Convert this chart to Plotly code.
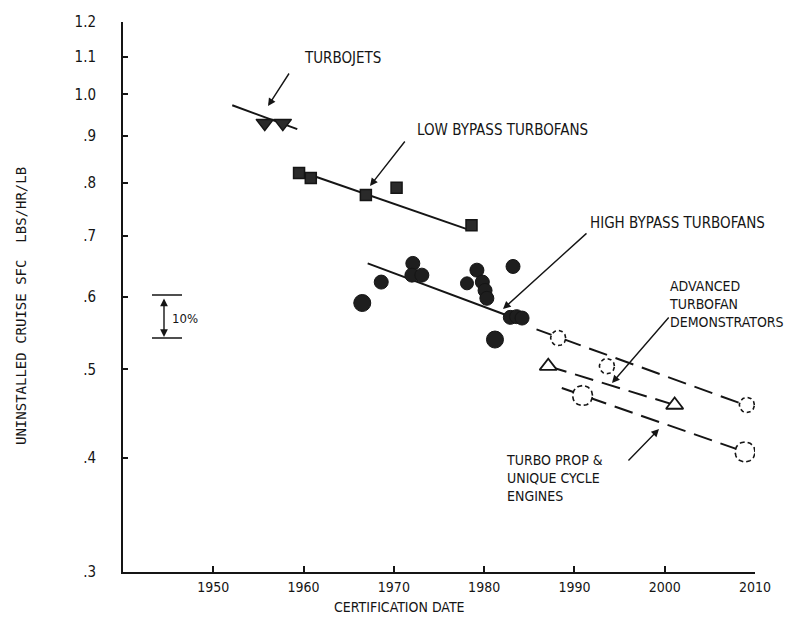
import numpy as np
import plotly.graph_objects as go

# ---------------- data ----------------
turbojet_year = [1955.7, 1957.7]
turbojet_sfc = [0.930, 0.930]
turbojet_trend_year = [1952.1, 1959.3]
turbojet_trend_sfc = [0.973, 0.916]

lowbp_year = [1959.5, 1960.8, 1966.9, 1970.3, 1978.6]
lowbp_sfc = [0.820, 0.810, 0.776, 0.790, 0.719]
lowbp_trend_year = [1960.8, 1978.1]
lowbp_trend_sfc = [0.816, 0.712]

highbp_year = [1966.5, 1968.6, 1972.1, 1972.0, 1973.1, 1978.1, 1979.2, 1979.8,
               1980.1, 1980.3, 1983.2, 1982.9, 1983.6, 1984.2, 1981.2]
highbp_sfc = [0.591, 0.623, 0.653, 0.634, 0.634, 0.621, 0.642, 0.623,
              0.610, 0.598, 0.648, 0.570, 0.571, 0.569, 0.539]
highbp_size = [17, 14, 14, 14, 14, 13, 14, 14, 14, 14, 14, 14, 14, 14, 17]
highbp_trend_year = [1967.1, 1982.5]
highbp_trend_sfc = [0.653, 0.573]

adv_year = [1988.2, 1993.6, 2009.1]
adv_sfc = [0.541, 0.504, 0.457]
adv_trend_year = [1985.8, 2008.9]
adv_trend_sfc = [0.553, 0.457]

prop_tri_year = [1987.1, 2001.1]
prop_tri_sfc = [0.504, 0.457]

prop_circ_year = [1990.9, 2008.9]
prop_circ_sfc = [0.468, 0.406]
prop_trend_year = [1988.6, 2008.9]
prop_trend_sfc = [0.477, 0.406]

y_tickvals = [0.3, 0.4, 0.5, 0.6, 0.7, 0.8, 0.9, 1.0, 1.1, 1.2]
y_ticktext = [".3", ".4", ".5", ".6", ".7", ".8", ".9", "1.0", "1.1", "1.2"]
x_tickvals = [1950, 1960, 1970, 1980, 1990, 2000, 2010]
x_ticktext = ["1950", "1960", "1970", "1980", "1990", "2000", "2010"]

# ---------------- layout geometry ----------------
# the page body adds an 8px offset; sizes below are chosen so the plot area
# lands at screen x 123..755, y 22..572
OFF = 8
W, H = 802 - OFF, 625 - OFF
PL, PR, PT, PB = 123, 755, 22, 572       # plot area on screen
ML, MT = PL - OFF, PT - OFF
PW, PH = PR - PL, PB - PT
MR, MB = W - ML - PW, H - MT - PH
XR = [1940, 2010]
YR = [np.log10(0.3), np.log10(1.2)]
px_per_year = PW / (XR[1] - XR[0])
px_per_dec = PH / (YR[1] - YR[0])

FONT = "DejaVu Sans Condensed, Liberation Sans Narrow, Arial Narrow, sans-serif"
MONO = "DejaVu Sans Mono, Liberation Mono, monospace"
INK = "#151515"


def paper(x, y):
    return (x - PL) / PW, (PB - y) / PH


def dashed_circle(xs, ys, r):
    t = np.linspace(0, 2 * np.pi, 61)
    cx, cy = [], []
    for x0, y0 in zip(xs, ys):
        cx += list(x0 + r * np.cos(t) / px_per_year) + [None]
        cy += list(y0 * 10 ** (r * np.sin(t) / px_per_dec)) + [None]
    return cx, cy


fig = go.Figure()

line_style = dict(color=INK, width=2)
dash_style = dict(color=INK, width=2, dash="19px,9px")

# trend lines
fig.add_trace(go.Scatter(x=turbojet_trend_year, y=turbojet_trend_sfc, mode="lines", line=line_style))
fig.add_trace(go.Scatter(x=lowbp_trend_year, y=lowbp_trend_sfc, mode="lines", line=line_style))
fig.add_trace(go.Scatter(x=highbp_trend_year, y=highbp_trend_sfc, mode="lines", line=line_style))
fig.add_trace(go.Scatter(x=adv_trend_year, y=adv_trend_sfc, mode="lines", line=dash_style))
fig.add_trace(go.Scatter(x=prop_tri_year, y=prop_tri_sfc, mode="lines", line=dash_style))
fig.add_trace(go.Scatter(x=prop_trend_year, y=prop_trend_sfc, mode="lines", line=dash_style))

# filled markers
fig.add_trace(go.Scatter(x=turbojet_year, y=turbojet_sfc, mode="markers",
                         marker=dict(symbol="triangle-down", size=15, color="#2a2a2a", opacity=1,
                                     line=dict(color=INK, width=1.5))))
fig.add_trace(go.Scatter(x=lowbp_year, y=lowbp_sfc, mode="markers",
                         marker=dict(symbol="square", size=11, color="#2a2a2a", opacity=1,
                                     line=dict(color=INK, width=1.5))))
fig.add_trace(go.Scatter(x=highbp_year, y=highbp_sfc, mode="markers",
                         marker=dict(symbol="circle", size=highbp_size, color="#1e1e1e", opacity=1,
                                     line=dict(color=INK, width=1))))

# open markers (white backing + dashed outlines)
fig.add_trace(go.Scatter(x=adv_year, y=adv_sfc, mode="markers",
                         marker=dict(symbol="circle", size=15, color="white", opacity=1,
                                     line=dict(width=0))))
fig.add_trace(go.Scatter(x=prop_circ_year, y=prop_circ_sfc, mode="markers",
                         marker=dict(symbol="circle", size=20, color="white", opacity=1,
                                     line=dict(width=0))))
cx, cy = dashed_circle(adv_year, adv_sfc, 7.5)
fig.add_trace(go.Scatter(x=cx, y=cy, mode="lines", line=dict(color=INK, width=1.6, dash="4px,3px")))
cx, cy = dashed_circle(prop_circ_year, prop_circ_sfc, 10)
fig.add_trace(go.Scatter(x=cx, y=cy, mode="lines", line=dict(color=INK, width=1.6, dash="5px,3px")))
fig.add_trace(go.Scatter(x=prop_tri_year, y=prop_tri_sfc, mode="markers",
                         marker=dict(symbol="triangle-up", size=15, color="white", opacity=1,
                                     line=dict(color=INK, width=1.8))))

# ---------------- annotations ----------------
ann = []


def text(x, y, s, size=15, anchor="left", family=FONT):
    xp, yp = paper(x, y)
    ann.append(dict(x=xp, y=yp, xref="paper", yref="paper", text=s, showarrow=False,
                    xanchor=anchor, yanchor="middle", align="left",
                    font=dict(family=family, size=size, color=INK)))


def arrow(tail, head, side="end"):
    xp, yp = paper(*head)
    ann.append(dict(x=xp, y=yp, xref="paper", yref="paper", text="", showarrow=True,
                    ax=tail[0] - head[0], ay=tail[1] - head[1], axref="pixel", ayref="pixel",
                    arrowhead=2, arrowsize=1.1, arrowwidth=1.4, arrowcolor=INK,
                    arrowside=side, standoff=0, startstandoff=0))


text(302, 58, "TURBOJETS")
arrow((290, 72), (268, 106))
text(415, 130, "LOW BYPASS TURBOFANS")
arrow((406, 140), (370, 186))
text(588, 223, "HIGH BYPASS TURBOFANS")
arrow((588, 232), (503, 309))
text(667, 304, "ADVANCED<br>TURBOFAN<br>DEMONSTRATORS", size=14)
arrow((670, 316), (612, 383))
text(504, 478, "TURBO PROP &amp;<br>UNIQUE CYCLE<br>ENGINES", size=14)
arrow((627, 462), (659, 429))
text(170, 318, "10%", size=13)
arrow((164, 297), (164, 337), side="end+start")
text(21, 306, "UNINSTALLED CRUISE SFC  LBS/HR/LB", size=14, anchor="center", family=MONO)
ann[-1]["textangle"] = -90
text(399, 607, "CERTIFICATION DATE", size=14, anchor="center")

shapes = []
for yy in (295, 338):
    x0, y0 = paper(152, yy)
    x1, _ = paper(182, yy)
    shapes.append(dict(type="line", xref="paper", yref="paper", x0=x0, x1=x1, y0=y0, y1=y0,
                       line=dict(color=INK, width=1.5)))

fig.update_layout(
    width=W, height=H,
    margin=dict(l=ML, r=MR, t=MT, b=MB, autoexpand=False),
    paper_bgcolor="white", plot_bgcolor="white",
    showlegend=False,
    annotations=ann, shapes=shapes,
    font=dict(family=FONT, size=14, color=INK),
    xaxis=dict(range=XR, tickvals=x_tickvals, ticktext=x_ticktext, showgrid=False,
               zeroline=False, showline=True, linecolor=INK, linewidth=2,
               ticks="inside", ticklen=6, tickwidth=1.5, tickcolor=INK,
               ticklabelstandoff=1,
               tickfont=dict(family=FONT, size=14, color=INK)),
    yaxis=dict(type="log", range=YR, tickvals=y_tickvals, ticktext=y_ticktext, showgrid=False,
               zeroline=False, showline=True, linecolor=INK, linewidth=2,
               ticks="inside", ticklen=5, tickwidth=1.5, tickcolor=INK,
               ticklabelstandoff=22,
               tickfont=dict(family=FONT, size=15, color=INK)),
)

fig.write_html("out.html")
